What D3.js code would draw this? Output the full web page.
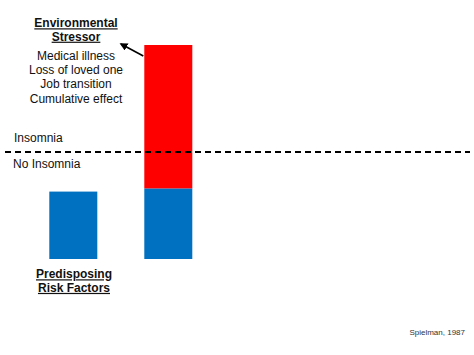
<!DOCTYPE html>
<html><head><meta charset="utf-8">
<script src="https://cdn.jsdelivr.net/npm/d3@7"></script>
<style>
html,body{margin:0;padding:0;background:#fff;}
svg{display:block;font-family:"Liberation Sans",Arial,sans-serif;}
</style></head>
<body>
<svg id="chart" width="474" height="355"></svg>
<script>
// Data
const categories = ["Predisposing", "Precipitating"];
const predisposingValues = [31.5, 33];   // blue segment
const stressorValues = [0, 67];          // red segment stacked on top
const threshold = 50;
const stressorTitle = ["Environmental", "Stressor"];
const stressorItems = ["Medical illness", "Loss of loved one", "Job transition", "Cumulative effect"];
const predisposingTitle = ["Predisposing", "Risk Factors"];
const thresholdLabels = ["Insomnia", "No Insomnia"];
const sourceNote = "Spielman, 1987";

const svg = d3.select("#chart");
const x = d3.scaleBand().domain(categories).range([2.3, 239.3]).padding(0.4947);
const y = d3.scaleLinear().domain([0, 100]).range([259, 45]);

const rows = categories.map((c, i) => ({cat: c, blue: predisposingValues[i], red: stressorValues[i]}));
const stack = d3.stack().keys(["blue", "red"])(rows);
const colors = {blue: "#0070C0", red: "#FF0000"};

svg.append("g").selectAll("g").data(stack).join("g")
  .attr("fill", d => colors[d.key])
  .selectAll("rect").data(d => d.filter(s => s[1] > s[0])).join("rect")
  .attr("x", d => x(d.data.cat))
  .attr("width", x.bandwidth())
  .attr("y", d => y(d[1]))
  .attr("height", d => y(d[0]) - y(d[1]));

// Threshold dashed line
svg.append("line")
  .attr("x1", 5).attr("x2", 470)
  .attr("y1", y(threshold)).attr("y2", y(threshold))
  .attr("stroke", "#000").attr("stroke-width", 2)
  .attr("stroke-dasharray", "6,4");

svg.append("text").attr("x", 14).attr("y", y(threshold) - 9.7)
  .attr("font-size", 12).attr("fill", "#111").text(thresholdLabels[0]);
svg.append("text").attr("x", 13).attr("y", y(threshold) + 15.7)
  .attr("font-size", 12).attr("fill", "#111").text(thresholdLabels[1]);

// Stressor annotation
const cx = 76;
svg.append("g").selectAll("text").data(stressorTitle).join("text")
  .attr("x", cx).attr("y", (d, i) => 27.3 + i * 13.4)
  .attr("text-anchor", "middle").attr("font-size", 12).attr("font-weight", "bold")
  .attr("text-decoration", "underline").attr("fill", "#111").text(d => d);
svg.append("g").selectAll("text").data(stressorItems).join("text")
  .attr("x", cx).attr("y", (d, i) => 60 + i * 14.2)
  .attr("text-anchor", "middle").attr("font-size", 12).attr("fill", "#111").text(d => d);

// Arrow
svg.append("defs").append("marker")
  .attr("id", "ah").attr("viewBox", "0 0 10 10").attr("refX", 8).attr("refY", 5)
  .attr("markerWidth", 5).attr("markerHeight", 5).attr("orient", "auto")
  .append("path").attr("d", "M0,0 L10,5 L0,10 Z").attr("fill", "#000");
const bx = x(categories[1]);
svg.append("line")
  .attr("x1", bx - 1).attr("y1", y(100) + 11)
  .attr("x2", 121).attr("y2", 44)
  .attr("stroke", "#000").attr("stroke-width", 1.6)
  .attr("marker-end", "url(#ah)");

// Predisposing label
svg.append("g").selectAll("text").data(predisposingTitle).join("text")
  .attr("x", x(categories[0]) + x.bandwidth() / 2 + 0.7)
  .attr("y", (d, i) => 278.3 + i * 13.6)
  .attr("text-anchor", "middle").attr("font-size", 12).attr("font-weight", "bold")
  .attr("text-decoration", "underline").attr("fill", "#111").text(d => d);

// Source
svg.append("text").attr("x", 465).attr("y", 335)
  .attr("text-anchor", "end").attr("font-size", 8).attr("fill", "#333").text(sourceNote);
</script>
</body></html>
